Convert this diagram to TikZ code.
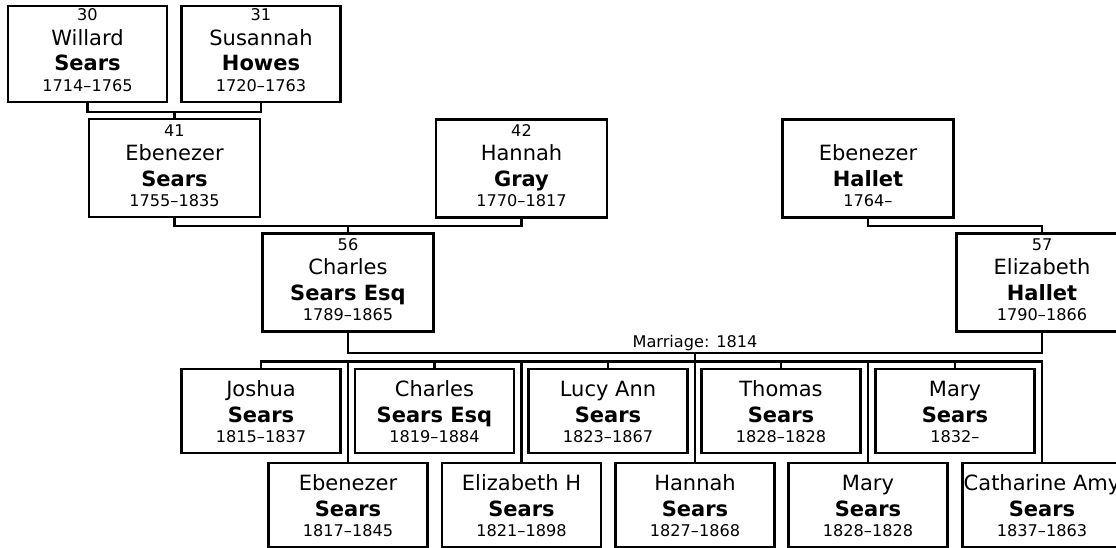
\documentclass[tikz,border=0pt]{standalone}
\usepackage{fontspec}
\setmainfont{DejaVu Sans}
\usetikzlibrary{calc}
\tikzset{
  pbox/.style={draw, line width=1.6pt, inner sep=0pt, outer sep=0pt, fill=white},
  bigtxt/.style={font=\fontsize{15.75}{18}\selectfont, inner sep=0pt, anchor=base},
  smalltxt/.style={font=\fontsize{12.1}{14}\selectfont, inner sep=0pt, anchor=base},
  link/.style={line width=1.6pt}
}
% #1 name, #2 x, #3 y, #4 w, #5 h, #6 number, #7 first, #8 last, #9 dates
\newcommand\person[9]{%
  \node[pbox, minimum width={#4*0.75pt}, minimum height={#5*0.75pt}] (#1) at (#2,#3) {};
  \if\relax\detokenize{#6}\relax\else
    \node[smalltxt] (#1-n) at ($(#1.south)+(0,-81)$) {#6};
  \fi
  \node[bigtxt] (#1-f) at ($(#1.south)+(0,-56.5)$) {#7};
  \node[bigtxt] (#1-l) at ($(#1.south)+(0,-31)$) {\bfseries #8};
  \node[smalltxt] (#1-d) at ($(#1.south)+(0,-10.5)$) {#9};
}
\begin{document}
\begin{tikzpicture}[x=0.75pt,y=-0.75pt]
\useasboundingbox (0,0) rectangle (1116,548);
\clip (0,0) rectangle (1116,548);
% ancestors
\person{p30}{87.5}{54}{159}{96}{30}{Willard}{Sears}{1714–1765}
\person{p31}{261}{54}{159}{96}{31}{Susannah}{Howes}{1720–1763}
\person{p41}{174.5}{168.3}{171}{98}{41}{Ebenezer}{Sears}{1755–1835}
\person{p42}{521.5}{168.5}{171}{98}{42}{Hannah}{Gray}{1770–1817}
\person{eh}{868}{168.5}{171}{98}{}{Ebenezer}{Hallet}{1764–}
\person{p56}{348}{282.5}{171}{98}{56}{Charles}{Sears Esq}{1789–1865}
\person{p57}{1042}{282.5}{171}{98}{57}{Elizabeth}{Hallet}{1790–1866}
% children row 1
\person{c1}{261}{411}{159}{84}{}{Joshua}{Sears}{1815–1837}
\person{c3}{434.5}{411}{159}{84}{}{Charles}{Sears Esq}{1819–1884}
\person{c5}{608}{411}{159}{84}{}{Lucy Ann}{Sears}{1823–1867}
\person{c7}{781}{411}{159}{84}{}{Thomas}{Sears}{1828–1828}
\person{c9}{955}{411}{159}{84}{}{Mary}{Sears}{1832–}
% children row 2
\person{c2}{348}{505}{159}{84}{}{Ebenezer}{Sears}{1817–1845}
\person{c4}{521.5}{505}{159}{84}{}{Elizabeth H}{Sears}{1821–1898}
\person{c6}{695}{505}{159}{84}{}{Hannah}{Sears}{1827–1868}
\person{c8}{868}{505}{159}{84}{}{Mary}{Sears}{1828–1828}
\person{c10}{1042}{505}{159}{84}{}{Catharine Amy}{Sears}{1837–1863}
% connectors
\coordinate (g1) at (174.5,112);
\draw[link] (p30.south) |- (g1) -| (p31.south);
\draw[link] (g1) -- (p41.north);
\coordinate (g2) at (348,226);
\draw[link] (p41.south) |- (g2) -| (p42.south);
\draw[link] (g2) -- (p56.north);
\coordinate (g3) at (1042,226);
\draw[link] (eh.south) |- (g3) -- (p57.north);
\coordinate (mar) at (695,353);
\draw[link] (p56.south) |- (mar) -| (p57.south);
\node[smalltxt] (marlbl) at (695,347.5) {Marriage: 1814};
\coordinate (sib) at (695,361.5);
\draw[link] (mar) -- (c6.north);
\draw[link] (c1.north) -- (c1.north |- sib) -- (c10.north |- sib) -- (c10.north);
\foreach \c in {c2,c3,c4,c5,c7,c8,c9}
  \draw[link] (\c.north) -- (\c.north |- sib);
\end{tikzpicture}
\end{document}
